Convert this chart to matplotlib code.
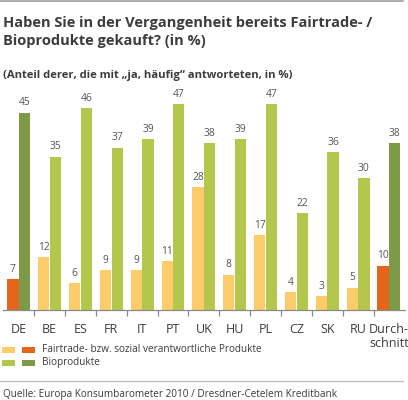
import matplotlib
matplotlib.use("Agg")
import matplotlib.pyplot as plt
from matplotlib.patches import Rectangle
from matplotlib.lines import Line2D

categories = ["DE", "BE", "ES", "FR", "IT", "PT", "UK", "HU", "PL", "CZ", "SK", "RU", "Durch-\nschnitt"]
fairtrade = [7, 12, 6, 9, 9, 11, 28, 8, 17, 4, 3, 5, 10]
bio = [45, 35, 46, 37, 39, 47, 38, 39, 47, 22, 36, 30, 38]
highlight = ["DE", "Durch-\nschnitt"]
legend_labels = ["Fairtrade- bzw. sozial verantwortliche Produkte", "Bioprodukte"]

title_lines = ["Haben Sie in der Vergangenheit bereits Fairtrade- /", "Bioprodukte gekauft? (in %)"]
subtitle = "(Anteil derer, die mit \u201eja, h\u00e4ufig\u201c antworteten, in %)"
source = "Quelle: Europa Konsumbarometer 2010 / Dresdner-Cetelem Kreditbank"

plt.rcParams['font.family'] = ['Open Sans', 'DejaVu Sans']

LIGHT_OR = "#FCCB6A"
DARK_OR = "#E5661A"
LIGHT_GR = "#B4C64B"
DARK_GR = "#7D9A47"
TXT = "#3C3C3C"
GRAY = "#555555"

W, H = 408, 400
fig = plt.figure(figsize=(W / 100, H / 100), dpi=100)

def fx(px):
    return px / W

def fy(py):
    return 1 - py / H

ax = fig.add_axes([fx(3), fy(309.5), fx(402), 218.5 / H])
n = len(categories)
xs = list(range(n))
bw = 0.365
off = 0.19
for i, c in enumerate(categories):
    dark = c in highlight
    ax.bar(i - off, fairtrade[i], width=bw, color=DARK_OR if dark else LIGHT_OR, linewidth=0)
    ax.bar(i + off, bio[i], width=bw, color=DARK_GR if dark else LIGHT_GR, linewidth=0)
    ax.text(i - off, fairtrade[i] + 1.0, str(fairtrade[i]), ha="center", va="bottom",
            fontsize=7.4, color=GRAY)
    ax.text(i + off, bio[i] + 1.0, str(bio[i]), ha="center", va="bottom",
            fontsize=7.4, color=GRAY)

ax.set_xlim(-0.51, n - 1 + 0.52)
ax.set_ylim(0, 50)
for s in ["top", "right", "left"]:
    ax.spines[s].set_visible(False)
ax.spines["bottom"].set_color("#8a8a8a")
ax.spines["bottom"].set_linewidth(0.9)
ax.set_yticks([])
ax.set_xticks(xs)
ax.set_xticklabels(categories, fontsize=9, color=TXT, va="top", linespacing=1.1)
ax.tick_params(axis="x", which="major", length=0, pad=10)
ax.set_xticks([i + 0.5 for i in range(n - 1)], minor=True)
ax.tick_params(axis="x", which="minor", length=4, color="#8a8a8a", width=0.9, direction="out")
ax.patch.set_alpha(0)

# Top line and separator
fig.add_artist(Line2D([0, fx(403)], [fy(1), fy(1)], color="#a0a0a0", linewidth=1.2))
fig.add_artist(Line2D([0, fx(403)], [fy(381), fy(381)], color="#c0c0c0", linewidth=1.0))

fig.text(fx(3), fy(27), title_lines[0], fontsize=10.5, fontweight="bold", color=TXT,
         ha="left", va="baseline")
fig.text(fx(3), fy(45.5), title_lines[1], fontsize=10.5, fontweight="bold", color=TXT,
         ha="left", va="baseline")
fig.text(fx(3), fy(78), subtitle, fontsize=8.1, fontweight="bold", color=TXT,
         ha="left", va="baseline")

# Legend
sq_w, sq_h = 13, 6.5
for row, (cl, cd) in enumerate([(LIGHT_OR, DARK_OR), (LIGHT_GR, DARK_GR)]):
    yc = 350 + row * 13
    fig.add_artist(Rectangle((fx(2), fy(yc + sq_h / 2)), fx(sq_w), sq_h / H, color=cl, lw=0))
    fig.add_artist(Rectangle((fx(22), fy(yc + sq_h / 2)), fx(sq_w), sq_h / H, color=cd, lw=0))
    fig.text(fx(42), fy(yc), legend_labels[row], fontsize=7.2, color=TXT, ha="left", va="center")

fig.text(fx(3), fy(395), source, fontsize=7.2, color=TXT, ha="left", va="center")

fig.savefig("out.png", dpi=100, facecolor="white")
